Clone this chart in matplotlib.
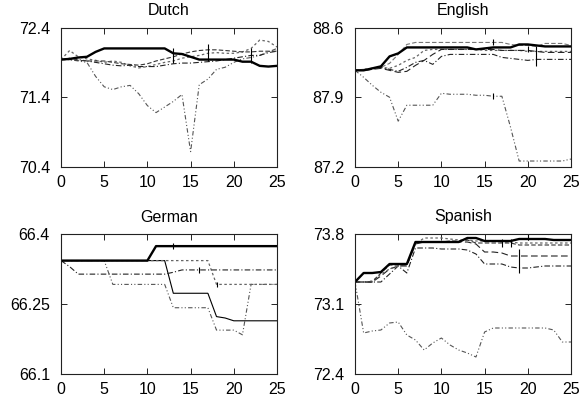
import numpy as np
import matplotlib
matplotlib.use("Agg")
import matplotlib.pyplot as plt

plt.rcParams['font.family'] = ['Liberation Sans', 'DejaVu Sans']

steps = list(range(26))

# Dutch
nl_thick = [71.94, 71.95, 71.97, 71.98, 72.05, 72.10, 72.10, 72.10, 72.10, 72.10, 72.10, 72.10, 72.10,
            72.03, 72.02, 71.98, 71.94, 71.94, 71.94, 71.94, 71.94, 71.91, 71.91, 71.85, 71.84, 71.85]
nl_dash = [71.94, 71.94, 71.93, 71.92, 71.92, 71.92, 71.90, 71.88, 71.87, 71.86, 71.88, 71.92, 71.95,
           71.98, 72.02, 72.05, 72.07, 72.08, 72.08, 72.07, 72.06, 72.05, 72.05, 72.06, 72.06, 72.06]
nl_dot = [71.94, 72.07, 71.98, 71.95, 71.93, 71.90, 71.92, 71.90, 71.85, 71.82, 71.84, 71.87, 71.90,
          71.92, 71.96, 71.98, 72.00, 72.03, 72.04, 72.03, 72.03, 72.05, 72.10, 72.22, 72.20, 72.12]
nl_dashdot = [71.94, 71.96, 71.94, 71.92, 71.90, 71.88, 71.86, 71.85, 71.86, 71.84, 71.84, 71.84, 71.86,
              71.88, 71.89, 71.89, 71.90, 71.91, 71.92, 71.94, 71.96, 71.98, 72.00, 72.00, 72.04, 72.06]
nl_low = [71.94, 71.94, 71.92, 71.90, 71.70, 71.55, 71.51, 71.55, 71.57, 71.45, 71.28, 71.18, 71.26,
          71.34, 71.44, 70.62, 71.58, 71.66, 71.80, 71.83, 71.90, 71.95, 71.97, 72.00, 72.05, 72.10]
nl_bar_x = [13, 17, 22]
nl_bar_y = [72.00, 72.04, 72.00]
nl_bar_h = [0.11, 0.125, 0.11]

# English
en_thick = [88.17, 88.17, 88.19, 88.21, 88.31, 88.34, 88.40, 88.40, 88.40, 88.40, 88.40, 88.40, 88.40,
            88.40, 88.38, 88.39, 88.40, 88.40, 88.40, 88.43, 88.43, 88.42, 88.41, 88.41, 88.41, 88.41]
en_dash = [88.17, 88.18, 88.19, 88.20, 88.24, 88.33, 88.43, 88.45, 88.45, 88.45, 88.45, 88.45, 88.45,
           88.45, 88.45, 88.45, 88.45, 88.45, 88.43, 88.42, 88.42, 88.41, 88.44, 88.44, 88.44, 88.42]
en_dot = [88.17, 88.18, 88.19, 88.20, 88.19, 88.22, 88.27, 88.30, 88.37, 88.38, 88.38, 88.38, 88.38,
          88.38, 88.38, 88.37, 88.37, 88.37, 88.37, 88.37, 88.36, 88.36, 88.36, 88.36, 88.36, 88.36]
en_dash2 = [88.17, 88.17, 88.18, 88.19, 88.17, 88.15, 88.16, 88.22, 88.27, 88.33, 88.38, 88.38, 88.38,
            88.38, 88.38, 88.38, 88.38, 88.37, 88.37, 88.37, 88.37, 88.36, 88.35, 88.35, 88.35, 88.35]
en_dashdot = [88.17, 88.17, 88.18, 88.20, 88.18, 88.16, 88.20, 88.25, 88.27, 88.23, 88.31, 88.33, 88.33,
              88.33, 88.33, 88.33, 88.33, 88.30, 88.29, 88.28, 88.27, 88.28, 88.28, 88.28, 88.28, 88.28]
en_low = [88.17, 88.10, 88.02, 87.95, 87.90, 87.66, 87.82, 87.82, 87.82, 87.82, 87.94, 87.93, 87.93,
          87.93, 87.92, 87.92, 87.91, 87.91, 87.60, 87.26, 87.26, 87.26, 87.26, 87.26, 87.26, 87.28]
en_bar_x = [16, 16, 20, 21]
en_bar_y = [88.45, 87.91, 88.38, 88.31]
en_bar_h = [0.03, 0.03, 0.03, 0.10]

# German
de_thick = [66.343] * 11 + [66.374] * 15
de_dash = [66.343, 66.33] + [66.314] * 11 + [66.318] + [66.323] * 12
de_dot = [66.343] * 18 + [66.292] * 8
de_thin = [66.343] * 13 + [66.273] * 5 + [66.223, 66.220] + [66.214] * 6
de_dashdot = [66.343] * 6 + [66.292] * 7 + [66.242] * 5 + [66.194] * 3 + [66.184] + [66.292] * 4
de_bar_x = [13, 16, 18]
de_bar_y = [66.374, 66.323, 66.292]
de_bar_h = [0.006, 0.006, 0.006]

# Spanish
es_thick = [73.32, 73.41, 73.41, 73.42, 73.50, 73.50, 73.50, 73.72, 73.72, 73.72, 73.72, 73.72, 73.72,
            73.76, 73.76, 73.73, 73.73, 73.73, 73.73, 73.75, 73.75, 73.75, 73.75, 73.74, 73.74, 73.74]
es_dash = [73.32, 73.32, 73.32, 73.41, 73.49, 73.49, 73.49, 73.72, 73.72, 73.72, 73.72, 73.73, 73.73,
           73.74, 73.71, 73.71, 73.71, 73.71, 73.71, 73.69, 73.69, 73.69, 73.69, 73.69, 73.69, 73.69]
es_dot = [73.32, 73.32, 73.33, 73.40, 73.45, 73.48, 73.50, 73.70, 73.76, 73.76, 73.76, 73.75, 73.74,
          73.74, 73.73, 73.73, 73.73, 73.72, 73.72, 73.71, 73.71, 73.71, 73.71, 73.71, 73.71, 73.71]
es_dash2 = [73.32, 73.32, 73.32, 73.38, 73.45, 73.48, 73.48, 73.70, 73.72, 73.72, 73.72, 73.72, 73.72,
            73.72, 73.70, 73.62, 73.62, 73.61, 73.58, 73.58, 73.58, 73.58, 73.58, 73.58, 73.58, 73.58]
es_dashdot = [73.32, 73.32, 73.32, 73.32, 73.40, 73.48, 73.41, 73.66, 73.66, 73.66, 73.65, 73.65, 73.65,
              73.64, 73.60, 73.50, 73.50, 73.50, 73.47, 73.46, 73.46, 73.47, 73.48, 73.48, 73.48, 73.48]
es_low = [73.32, 72.81, 72.83, 72.84, 72.91, 72.92, 72.79, 72.74, 72.64, 72.71, 72.76, 72.69, 72.64,
          72.61, 72.57, 72.82, 72.86, 72.86, 72.86, 72.86, 72.86, 72.86, 72.86, 72.84, 72.72, 72.72]
es_bar_x = [17, 18, 19, 20]
es_bar_y = [73.71, 73.71, 73.53, 73.77]
es_bar_h = [0.04, 0.04, 0.12, 0.03]

# line styles (gnuplot-like mono)
thick = dict(color='black', lw=1.7, ls='-')
thin = dict(color='black', lw=0.8, ls='-')
dash = dict(color='#333333', lw=0.8, ls=(0, (4, 2)))
dash2 = dict(color='#222222', lw=0.8, ls=(0, (6, 3)))
dot = dict(color='#666666', lw=0.9, ls=(0, (2, 2)))
dashdot = dict(color='#222222', lw=0.8, ls=(0, (5, 2, 1, 2)))
low = dict(color='#555555', lw=0.8, ls=(0, (4, 2, 1, 2, 1, 2)))


def setup(ax, title, ylo, yhi, ymid):
    ax.set_xlim(0, 25)
    ax.set_ylim(ylo, yhi)
    ax.set_xticks([0, 5, 10, 15, 20, 25])
    ax.set_yticks([ylo, ymid, yhi])
    ax.tick_params(direction='in', length=4, width=0.6, top=True, right=True,
                   labelsize=11.5, pad=8)
    ax.tick_params(axis='x', pad=6)
    for s in ax.spines.values():
        s.set_linewidth(0.8)
        s.set_color('#222222')
    ax.set_title(title, fontsize=11.5, pad=9)


fig = plt.figure(figsize=(5.84, 4.04), dpi=100)
W = 216 / 584
H = 139.5 / 404

# Dutch
ax = fig.add_axes([61 / 584, 1 - 167 / 404, W, H])
ax.plot(steps, nl_low, **low)
ax.plot(steps, nl_dot, **dot)
ax.plot(steps, nl_dashdot, **dashdot)
ax.plot(steps, nl_dash, **dash)
ax.plot(steps, nl_thick, **thick)
ax.errorbar(nl_bar_x, nl_bar_y, yerr=nl_bar_h, fmt='none', ecolor='black', elinewidth=0.8)
setup(ax, 'Dutch', 70.4, 72.4, 71.4)
ax.set_yticklabels(['70.4', '71.4', '72.4'])

# English
ax = fig.add_axes([355 / 584, 1 - 167 / 404, W, H])
ax.plot(steps, en_low, **low)
ax.plot(steps, en_dot, **dot)
ax.plot(steps, en_dashdot, **dashdot)
ax.plot(steps, en_dash2, **dash2)
ax.plot(steps, en_dash, **dict(dash, color='#777777'))
ax.plot(steps, en_thick, **thick)
ax.errorbar(en_bar_x, en_bar_y, yerr=en_bar_h, fmt='none', ecolor='black', elinewidth=0.8)
setup(ax, 'English', 87.2, 88.6, 87.9)
ax.set_yticklabels(['87.2', '87.9', '88.6'])

# German
ax = fig.add_axes([61 / 584, 1 - 374 / 404, W, 140 / 404])
ax.plot(steps, de_dashdot, **low)
ax.plot(steps, de_thin, **thin)
ax.plot(steps, de_dot, **dot)
ax.plot(steps, de_dash, **dashdot)
ax.plot(steps, de_thick, **thick)
ax.errorbar(de_bar_x, de_bar_y, yerr=de_bar_h, fmt='none', ecolor='black', elinewidth=0.8)
setup(ax, 'German', 66.1, 66.4, 66.25)
ax.set_yticklabels(['66.1', '66.25', '66.4'])

# Spanish
ax = fig.add_axes([355 / 584, 1 - 374 / 404, W, 140 / 404])
ax.plot(steps, es_low, **low)
ax.plot(steps, es_dashdot, **dashdot)
ax.plot(steps, es_dash2, **dash2)
ax.plot(steps, es_dot, **dot)
ax.plot(steps, es_dash, **dash)
ax.plot(steps, es_thick, **thick)
ax.errorbar(es_bar_x, es_bar_y, yerr=es_bar_h, fmt='none', ecolor='black', elinewidth=0.8)
setup(ax, 'Spanish', 72.4, 73.8, 73.1)
ax.set_yticklabels(['72.4', '73.1', '73.8'])

fig.savefig('out.png', dpi=100)
